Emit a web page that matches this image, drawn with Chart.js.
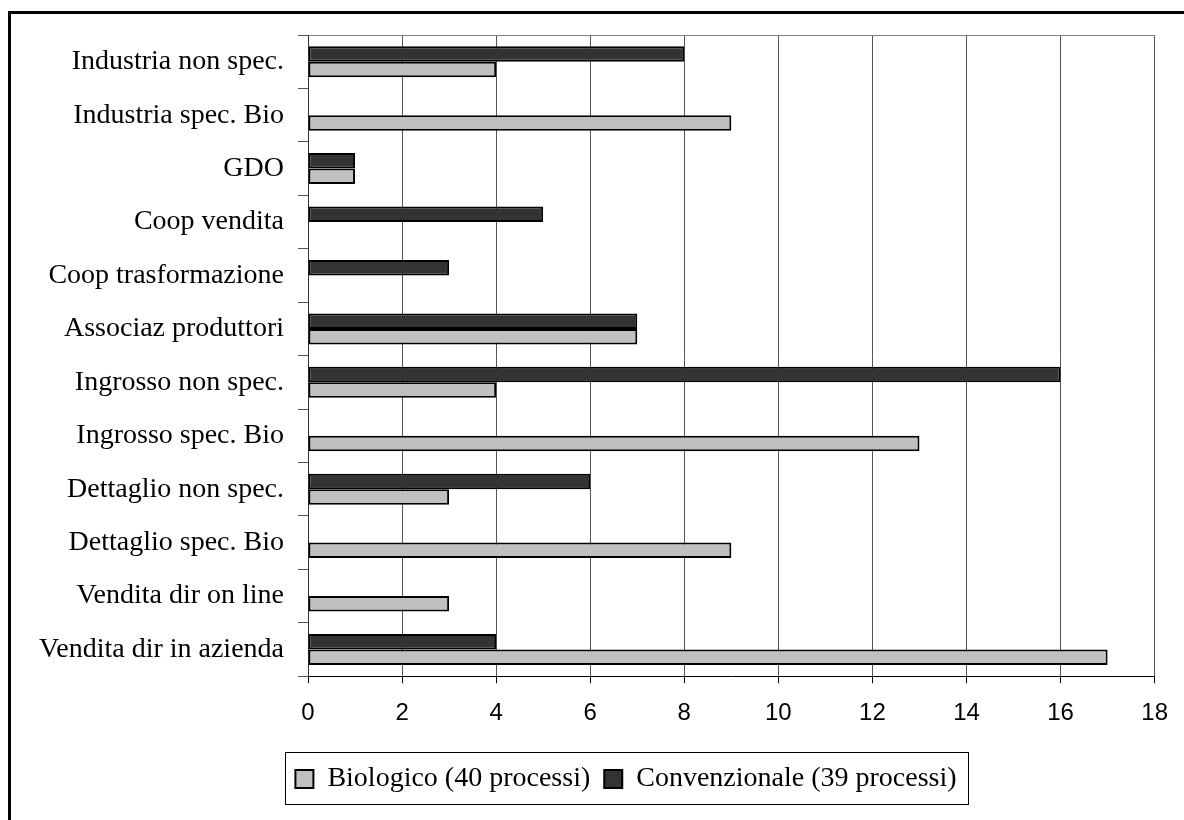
<!DOCTYPE html>
<html>
<head>
<meta charset="utf-8">
<script src="https://cdn.jsdelivr.net/npm/chart.js@4/dist/chart.umd.min.js"></script>
<style>
  html, body { margin: 0; padding: 0; background: #fff; }
  body { width: 1184px; height: 820px; overflow: hidden; position: relative; }
  #frame {
    position: absolute; left: 8px; top: 11px; width: 1300px; height: 900px;
    border-top: 3px solid #000; border-left: 3px solid #000; box-sizing: border-box;
  }
  #wrap { position: absolute; left: 0; top: 0; width: 1184px; height: 820px; }
</style>
</head>
<body>
<div id="frame"></div>
<div id="wrap"><canvas id="chart" width="1184" height="820"></canvas></div>
<script>
// Sales channels, listed from top to bottom
const categories = [
  'Industria non spec.',
  'Industria spec. Bio',
  'GDO',
  'Coop vendita',
  'Coop trasformazione',
  'Associaz produttori',
  'Ingrosso non spec.',
  'Ingrosso spec. Bio',
  'Dettaglio non spec.',
  'Dettaglio spec. Bio',
  'Vendita dir on line',
  'Vendita dir in azienda'
];

// Number of processes per channel (null = none)
const bioValues  = [4, 9, 1, null, null, 7, 4, 13, 3, 9, 3, 17];
const convValues = [8, null, 1, 5, 3, 7, 16, null, 6, null, null, 4];

const bioLabel  = 'Biologico (40 processi)';
const convLabel = 'Convenzionale (39 processi)';

const xTicks = { min: 0, max: 18, step: 2 };

const serif = '"Liberation Serif", "Times New Roman", serif';
const sans  = '"Liberation Sans", Arial, sans-serif';

const PAD_LEFT = 20;
const AXIS_LEFT = 308;
const LEGEND_CENTER = 626;

// Moves the legend row so it sits centred under the whole figure
const legendShift = {
  id: 'legendShift',
  afterLayout(chart) {
    const lg = chart.legend;
    if (!lg) return;
    const dx = LEGEND_CENTER - (lg.left + lg.right) / 2;
    lg.left += dx;
    lg.right += dx;
  }
};

// Boxed legend: outline drawn around the legend items
const legendFrame = {
  id: 'legendFrame',
  afterDraw(chart) {
    const boxes = chart.legend && chart.legend.legendHitBoxes;
    if (!boxes || !boxes.length) return;
    let l = Infinity, r = -Infinity, t = Infinity, b = -Infinity;
    boxes.forEach(h => {
      l = Math.min(l, h.left); r = Math.max(r, h.left + h.width);
      t = Math.min(t, h.top);  b = Math.max(b, h.top + h.height);
    });
    const ctx = chart.ctx;
    ctx.save();
    ctx.strokeStyle = '#000';
    ctx.lineWidth = 1;
    ctx.strokeRect(Math.round(l - 10) + 0.5, Math.round(t - 13) + 0.5,
                   Math.round(r - l + 22), Math.round(b - t + 24));
    ctx.restore();
  }
};

new Chart(document.getElementById('chart'), {
  type: 'bar',
  data: {
    labels: categories,
    datasets: [
      {
        label: convLabel,
        data: convValues,
        backgroundColor: '#333333',
        borderColor: '#000',
        borderWidth: 2,
        borderSkipped: false
      },
      {
        label: bioLabel,
        data: bioValues,
        backgroundColor: '#c0c0c0',
        borderColor: '#000',
        borderWidth: 2,
        borderSkipped: false
      }
    ]
  },
  options: {
    indexAxis: 'y',
    responsive: false,
    animation: false,
    devicePixelRatio: 1,
    categoryPercentage: 0.58,
    barPercentage: 1.0,
    layout: { padding: { left: PAD_LEFT, right: 29, top: 35, bottom: 17 } },
    plugins: {
      tooltip: { enabled: false },
      legend: {
        position: 'bottom',
        reverse: true,
        labels: {
          color: '#000',
          font: { family: serif, size: 28 },
          boxWidth: 18,
          boxHeight: 18,
          padding: 14
        }
      }
    },
    scales: {
      x: {
        min: xTicks.min,
        max: xTicks.max,
        afterFit(scale) { scale.height += 7; },
        ticks: {
          stepSize: xTicks.step,
          color: '#000',
          font: { family: sans, size: 24 },
          padding: 16
        },
        grid: {
          color: '#555',
          lineWidth: 1,
          tickLength: 7,
          tickColor: '#000'
        },
        border: { display: true, color: '#000', width: 1 }
      },
      y: {
        afterFit(scale) { scale.width = AXIS_LEFT - PAD_LEFT; },
        ticks: {
          color: '#000',
          font: { family: serif, size: 28 },
          padding: 14
        },
        grid: {
          offset: true,
          drawOnChartArea: true,
          color: ctx => ctx.index === 0 ? '#808080' : 'rgba(0,0,0,0)',
          tickColor: '#555',
          tickLength: 10
        },
        border: { display: true, color: '#333', width: 1 }
      }
    }
  },
  plugins: [legendShift, legendFrame]
});
</script>
</body>
</html>
